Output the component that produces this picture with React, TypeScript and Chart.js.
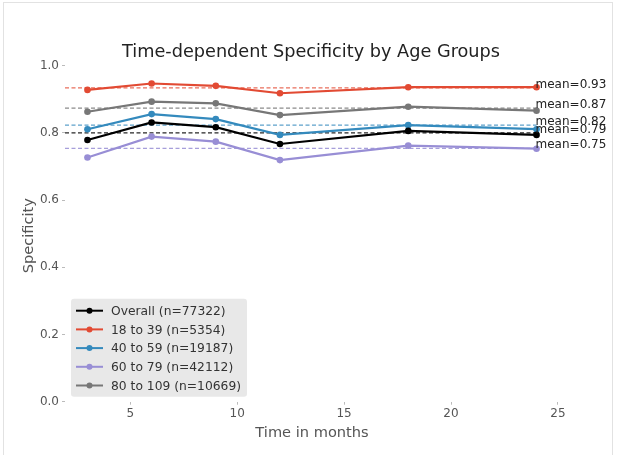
import React, { useEffect, useRef } from "react";
import { Chart, registerables } from "chart.js";

Chart.register(...registerables);

const months = [3, 6, 9, 12, 18, 24];
const seriesLabels = [
  "Overall (n=77322)",
  "18 to 39 (n=5354)",
  "40 to 59 (n=19187)",
  "60 to 79 (n=42112)",
  "80 to 109 (n=10669)",
];
const overall = [0.779, 0.831, 0.817, 0.767, 0.806, 0.794];
const age18to39 = [0.928, 0.947, 0.94, 0.918, 0.936, 0.936];
const age40to59 = [0.811, 0.856, 0.841, 0.794, 0.823, 0.811];
const age60to79 = [0.727, 0.789, 0.774, 0.719, 0.762, 0.753];
const age80to109 = [0.863, 0.893, 0.888, 0.853, 0.878, 0.866];
const meanValues = [0.8, 0.934, 0.823, 0.754, 0.874];
const meanLabels = ["mean=0.79", "mean=0.93", "mean=0.82", "mean=0.75", "mean=0.87"];
const xTicks = [5, 10, 15, 20, 25];
const yTicks = [0, 0.2, 0.4, 0.6, 0.8, 1.0];

const colors = ["#000000", "#E24A33", "#348ABD", "#988ED5", "#777777"];
const dashColors = [
  "rgba(0,0,0,0.85)",
  "rgba(226,74,51,0.8)",
  "rgba(52,138,189,0.8)",
  "rgba(152,142,213,0.85)",
  "rgba(119,119,119,0.85)",
];
const seriesValues = [overall, age18to39, age40to59, age60to79, age80to109];

const FONT = "'DejaVu Sans', sans-serif";

export default function App() {
  const ref = useRef<HTMLCanvasElement>(null);

  useEffect(() => {
    const canvas = ref.current!;
    const xMin = 1.95;
    const xMax = 25.05;

    const seriesDatasets = seriesValues.map((vals, i) => ({
      type: "line" as const,
      label: seriesLabels[i],
      data: vals.map((v, j) => ({ x: months[j], y: v })),
      borderColor: colors[i],
      backgroundColor: colors[i],
      borderWidth: 2.2,
      pointRadius: 3.3,
      pointBorderWidth: 0,
      pointBackgroundColor: colors[i],
      tension: 0,
      order: 1,
    }));
    const meanDatasets = meanValues.map((m, i) => ({
      type: "line" as const,
      label: "mean" + i,
      data: [
        { x: xMin, y: m },
        { x: months[months.length - 1], y: m },
      ],
      borderColor: dashColors[i],
      borderWidth: 1.3,
      borderDash: [4, 2.5],
      pointRadius: 0,
      tension: 0,
      order: 2,
    }));

    const textPlugin = {
      id: "textPlugin",
      afterDraw(chart: any) {
        const ctx = chart.ctx as CanvasRenderingContext2D;
        const ca = chart.chartArea;
        const xs = chart.scales.x;
        const ys = chart.scales.y;
        ctx.save();
        // title
        ctx.fillStyle = "#222222";
        ctx.font = `17.7px ${FONT}`;
        ctx.textAlign = "center";
        ctx.textBaseline = "alphabetic";
        ctx.fillText("Time-dependent Specificity by Age Groups", (ca.left + ca.right) / 2 - 1, 57);
        // axis titles
        ctx.fillStyle = "#555555";
        ctx.font = `14.6px ${FONT}`;
        ctx.fillText("Time in months", (ca.left + ca.right) / 2, 437);
        ctx.save();
        ctx.translate(33, (ca.top + ca.bottom) / 2 + 2);
        ctx.rotate(-Math.PI / 2);
        ctx.textBaseline = "alphabetic";
        ctx.fillText("Specificity", 0, 0);
        ctx.restore();
        // mean labels
        ctx.fillStyle = "#222222";
        ctx.font = `12px ${FONT}`;
        ctx.textAlign = "left";
        ctx.textBaseline = "alphabetic";
        meanValues.forEach((m, i) => {
          ctx.fillText(meanLabels[i], xs.getPixelForValue(months[months.length - 1]) - 1, ys.getPixelForValue(m));
        });
        // legend
        const boxL = ca.left + 6;
        const boxW = 176;
        const boxH = 98;
        const boxT = ca.bottom - 5 - boxH;
        ctx.fillStyle = "rgba(229,229,229,0.9)";
        ctx.beginPath();
        (ctx as any).roundRect(boxL, boxT, boxW, boxH, 3);
        ctx.fill();
        ctx.font = `12.3px ${FONT}`;
        ctx.textBaseline = "middle";
        seriesLabels.forEach((lab, i) => {
          const y = boxT + 12 + i * 18.7;
          ctx.strokeStyle = colors[i];
          ctx.lineWidth = 2;
          ctx.beginPath();
          ctx.moveTo(boxL + 5, y);
          ctx.lineTo(boxL + 32, y);
          ctx.stroke();
          ctx.fillStyle = colors[i];
          ctx.beginPath();
          ctx.arc(boxL + 18.5, y, 3, 0, Math.PI * 2);
          ctx.fill();
          ctx.fillStyle = "#333333";
          ctx.fillText(lab, boxL + 40, y + 1);
        });
        ctx.restore();
      },
    };

    const chart = new Chart(canvas, {
      type: "line",
      data: { datasets: [...seriesDatasets, ...meanDatasets] as any },
      options: {
        animation: false,
        responsive: false,
        devicePixelRatio: 1,
        layout: { padding: { left: 0, top: 65.7, right: 60, bottom: 0 } },
        plugins: { legend: { display: false }, title: { display: false }, tooltip: { enabled: false } },
        scales: {
          x: {
            type: "linear",
            min: xMin,
            max: xMax,
            afterFit: (s: any) => {
              s.height = 455 - 401.7;
            },
            afterBuildTicks: (s: any) => {
              s.ticks = xTicks.map((v) => ({ value: v }));
            },
            ticks: { color: "#555555", font: { family: FONT, size: 12 }, padding: 2, maxRotation: 0 },
            grid: { drawOnChartArea: false, drawTicks: true, tickLength: 3, color: "#bbbbbb" },
            border: { display: false },
          },
          y: {
            type: "linear",
            min: 0,
            max: 1,
            afterFit: (s: any) => {
              s.width = 65;
            },
            afterBuildTicks: (s: any) => {
              s.ticks = yTicks.map((v) => ({ value: v }));
            },
            ticks: {
              color: "#555555",
              font: { family: FONT, size: 12 },
              padding: 3,
              callback: (v: any) => Number(v).toFixed(1),
            },
            grid: { drawOnChartArea: false, drawTicks: true, tickLength: 3, color: "#bbbbbb" },
            border: { display: false },
          },
        },
      },
      plugins: [textPlugin],
    });
    return () => chart.destroy();
  }, []);

  return (
    <div style={{ position: "absolute", left: 0, top: 0, width: 619, height: 455, background: "#fff", overflow: "hidden" }}>
      <div
        style={{
          position: "absolute",
          left: 3,
          top: 2,
          width: 610,
          height: 470,
          border: "1px solid #e2e2e2",
          boxSizing: "border-box",
        }}
      />
      <canvas ref={ref} width={619} height={455} style={{ position: "absolute", left: 0, top: 0 }} />
    </div>
  );
}
